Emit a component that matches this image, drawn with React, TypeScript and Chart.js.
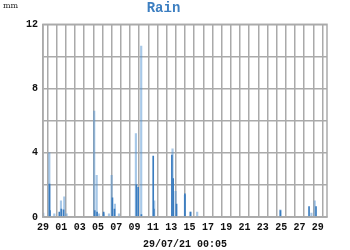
import React, { useEffect, useRef } from "react";
import { Chart, registerables } from "chart.js";

Chart.register(...registerables);

// Days since 29/06 00:00 and rain (mm)
const lightDays = [0.03, 0.69, 1.23, 1.96, 2.32, 2.58, 5.59, 5.86, 6.11, 6.62, 7.2, 7.49, 7.85, 8.29, 10.14, 10.72, 12.14, 14.14, 14.47, 15.49, 16.1, 16.83, 25.9, 29.3, 29.66];
const lightRain = [0.25, 4.0, 0.2, 1.0, 1.25, 0.2, 6.6, 2.6, 0.2, 0.2, 0.2, 2.6, 0.8, 0.2, 5.2, 10.65, 1.0, 4.25, 1.6, 1.35, 0.3, 0.3, 0.45, 0.25, 1.0];

const darkDays = [0.71, 0.76, 1.78, 2.0, 2.24, 5.65, 5.9, 6.62, 7.58, 7.8, 10.2, 10.39, 10.74, 12.03, 12.1, 14.07, 14.21, 14.58, 15.49, 16.1, 25.92, 29.04, 29.8];
const darkRain = [2.05, 0.4, 0.3, 0.5, 0.45, 0.4, 0.3, 0.3, 1.2, 0.5, 2.0, 1.85, 0.15, 3.8, 0.5, 3.85, 2.4, 0.8, 1.45, 0.3, 0.4, 0.65, 0.65];

const xTickLabels = ["29", "01", "03", "05", "07", "09", "11", "13", "15", "17", "19", "21", "23", "25", "27", "29"];
const yTickLabels = ["0", "4", "8", "12"];

const titleText = "Rain";
const unitText = "mm";
const dateText = "29/07/21 00:05";

const mono = "'Liberation Mono', 'Courier New', monospace";

export default function App() {
  const ref = useRef<HTMLCanvasElement | null>(null);

  useEffect(() => {
    if (!ref.current) return;
    const unitPlugin = {
      id: "unitLabel",
      afterDraw(chart: any) {
        const ctx = chart.ctx;
        ctx.save();
        ctx.font = "8px 'DejaVu Serif', serif";
        ctx.fillStyle = "#222";
        ctx.textBaseline = "alphabetic";
        ctx.textAlign = "left";
        ctx.fillText(unitText, 3, 8);
        ctx.restore();
      },
    };
    const chart = new Chart(ref.current, {
      type: "bar",
      data: {
        datasets: [
          {
            label: "dark",
            data: darkDays.map((d, i) => ({ x: d, y: darkRain[i] })),
            backgroundColor: "#3a7cbf",
            barThickness: 1,
            grouped: false,
            order: 0,
          } as any,
          {
            label: "light",
            data: lightDays.map((d, i) => ({ x: d, y: lightRain[i] })),
            backgroundColor: "rgba(80,145,210,0.5)",
            barThickness: 1.5,
            grouped: false,
            order: 1,
          } as any,
        ],
      },
      options: {
        responsive: false,
        animation: false,
        layout: { padding: { left: 0, right: 23, top: 0, bottom: 0 } },
        plugins: {
          legend: { display: false },
          tooltip: { enabled: false },
          title: {
            display: true,
            text: titleText,
            color: "#3d7fc1",
            font: { family: mono, size: 14, weight: "bold" },
            padding: { top: 0, bottom: 7.5 },
          },
        },
        scales: {
          x: {
            type: "linear",
            min: 0,
            max: 31,
            offset: false,
            afterFit: (s: any) => {
              s.height = 33;
            },
            grid: { color: "#aaaaaa", lineWidth: 1.5, drawTicks: false },
            border: { display: true, color: "#aaaaaa", width: 1.5 },
            ticks: {
              stepSize: 1,
              autoSkip: false,
              maxRotation: 0,
              padding: 4,
              color: "#111",
              font: { family: mono, size: 10, weight: "bold" },
              callback: (v: any) => {
                const n = Math.round(Number(v));
                return n % 2 === 0 && xTickLabels[n / 2] !== undefined ? xTickLabels[n / 2] : "";
              },
            },
            title: {
              display: true,
              text: dateText,
              color: "#111",
              font: { family: mono, size: 10, weight: "bold" },
              padding: { top: 0, bottom: 0 },
            },
          },
          y: {
            min: 0,
            max: 12,
            afterFit: (s: any) => {
              s.width = 43;
            },
            grid: { color: "#aaaaaa", lineWidth: 1.5, drawTicks: false },
            border: { display: true, color: "#aaaaaa", width: 1.5 },
            ticks: {
              stepSize: 2,
              padding: 5,
              color: "#111",
              font: { family: mono, size: 10, weight: "bold" },
              callback: (v: any) => {
                const n = Math.round(Number(v));
                return n % 4 === 0 ? yTickLabels[n / 4] : "";
              },
            },
          },
        },
      },
      plugins: [
        unitPlugin,
        {
          id: "rightTopBorder",
          afterDraw(chart: any) {
            const { ctx, chartArea } = chart;
            ctx.save();
            ctx.strokeStyle = "#aaaaaa";
            ctx.lineWidth = 1.5;
            ctx.strokeRect(chartArea.left, chartArea.top, chartArea.right - chartArea.left, chartArea.bottom - chartArea.top);
            ctx.restore();
          },
        },
      ],
    } as any);
    return () => chart.destroy();
  }, []);

  return (
    <div style={{ position: "fixed", left: 0, top: 0, width: 350, height: 250, background: "#fff" }}>
      <canvas ref={ref} width={350} height={250} style={{ display: "block" }} />
    </div>
  );
}
